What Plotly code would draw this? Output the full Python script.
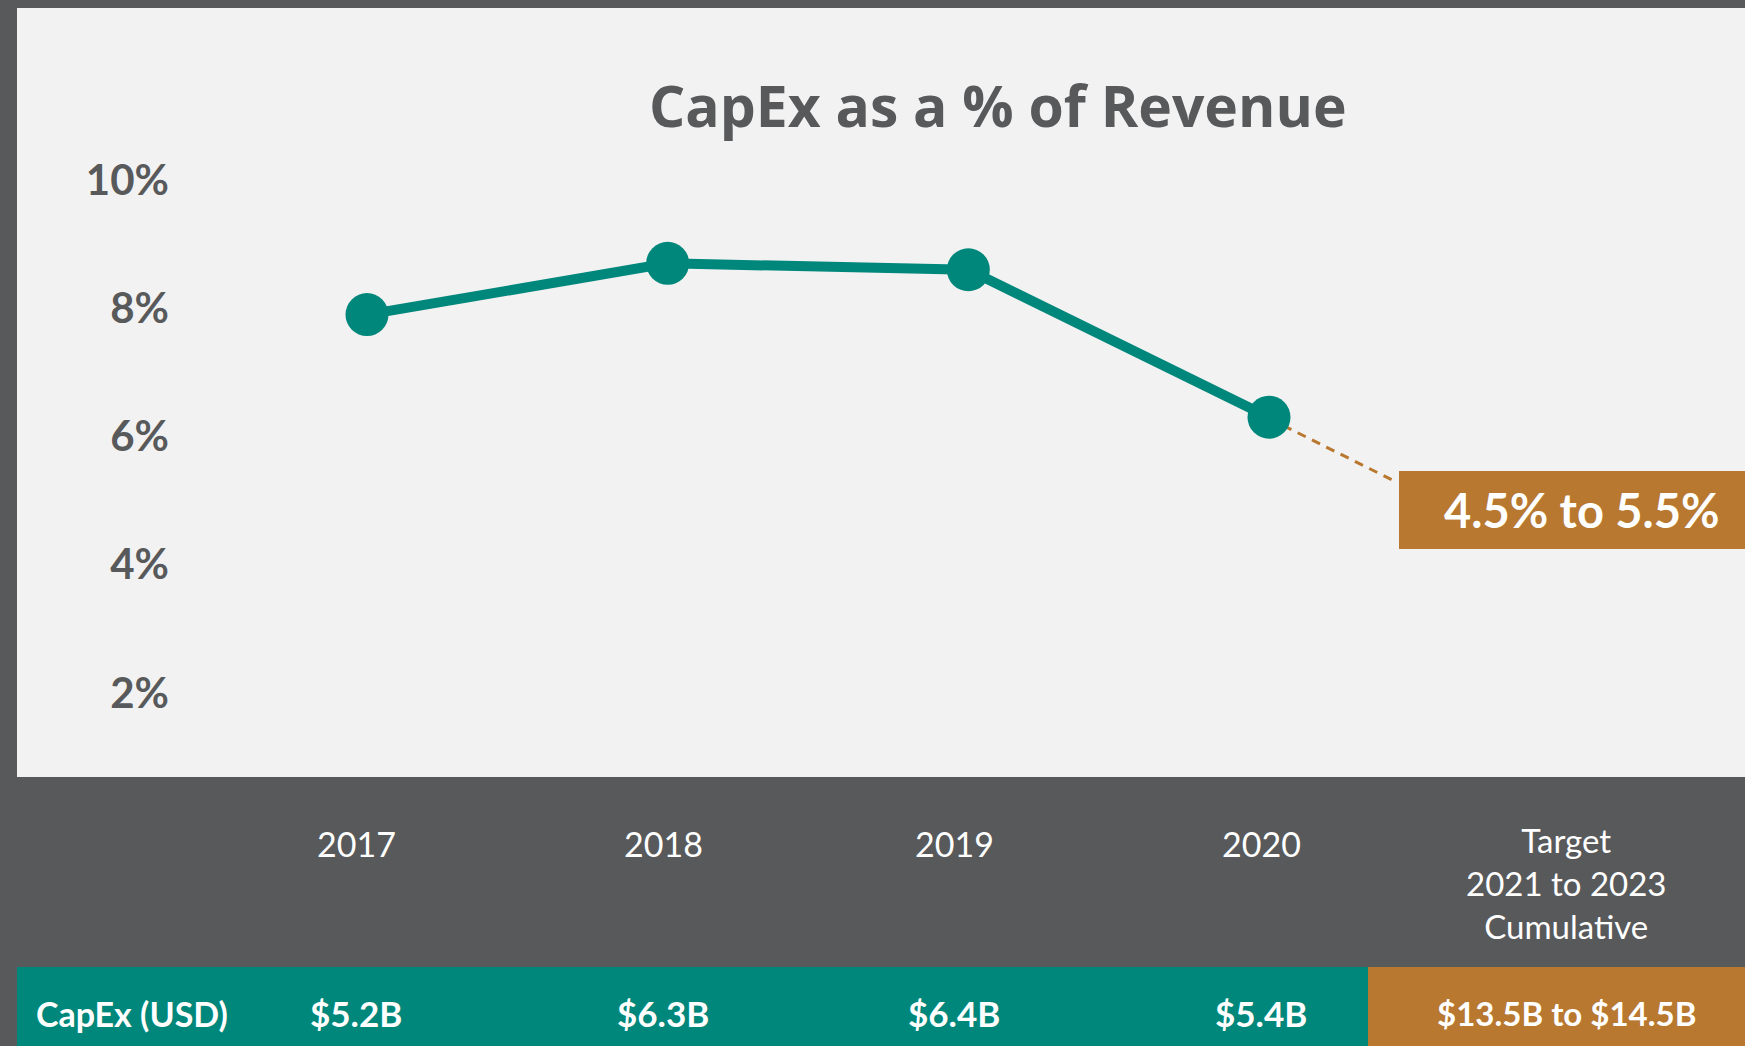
import plotly.graph_objects as go

# ---- data ----
years = [2017, 2018, 2019, 2020]
capex_pct = [7.9, 8.7, 8.6, 6.3]
capex_usd = ["$5.2B", "$6.3B", "$6.4B", "$5.4B"]
year_labels = ["2017", "2018", "2019", "2020"]
target_label = "Target<br>2021 to 2023<br>Cumulative"
target_usd = "$13.5B to $14.5B"
target_pct = "4.5% to 5.5%"
target_trend = [6.28, 5.32]          # dashed trend from last point toward target box
target_trend_x = [2020, 2020.41]
y_ticks = [2, 4, 6, 8, 10]
y_tick_text = ["2%", "4%", "6%", "8%", "10%"]
row_label = "CapEx (USD)"
title = "CapEx as a % of Revenue"

# ---- colours ----
DARK = "#58595b"
LIGHT = "#f2f2f2"
TEAL = "#00877b"
BRONZE = "#b8782f"

W, H = 1745, 1046
def px_x(p): return p / W
def px_y(p): return 1 - p / H

# table column centres (px)
col_centres = [356, 663, 954, 1261]
target_centre = 1566

fig = go.Figure()

fig.add_trace(go.Scatter(
    x=years, y=capex_pct, mode="lines+markers",
    line=dict(color=TEAL, width=10),
    marker=dict(color=TEAL, size=43),
    hoverinfo="skip", showlegend=False,
))

shapes = [
    dict(type="rect", xref="paper", yref="paper", x0=px_x(17), x1=1, y0=px_y(777), y1=px_y(8),
         fillcolor=LIGHT, line=dict(width=0), layer="below"),
    dict(type="rect", xref="paper", yref="paper", x0=px_x(17), x1=px_x(1368), y0=0, y1=px_y(967),
         fillcolor=TEAL, line=dict(width=0), layer="below"),
    dict(type="rect", xref="paper", yref="paper", x0=px_x(1368), x1=1, y0=0, y1=px_y(967),
         fillcolor=BRONZE, line=dict(width=0), layer="below"),
    dict(type="rect", xref="paper", yref="paper", x0=px_x(1399), x1=1, y0=px_y(549), y1=px_y(471),
         fillcolor=BRONZE, line=dict(width=0), layer="below"),
    dict(type="line", xref="x", yref="y", x0=target_trend_x[0], y0=target_trend[0],
         x1=target_trend_x[1], y1=target_trend[1],
         line=dict(color=BRONZE, width=3, dash="9px,7px"), layer="below"),
]

def ann(text, x, y, font, xanchor="center"):
    return dict(text=text, xref="paper", yref="paper", x=x, y=y, xanchor=xanchor,
                yanchor="middle", showarrow=False, font=font)

annotations = [
    ann(title, px_x(998), px_y(105), dict(family="Open Sans", size=57, color=DARK, weight=700)),
    ann(target_pct, px_x(1582), px_y(510), dict(family="Lato", size=47, color="white", weight="bold")),
    ann(row_label, px_x(34), px_y(1013), dict(family="Lato", size=34, color="white", weight="bold"),
        xanchor="left"),
    ann(target_label, px_x(target_centre), px_y(883), dict(family="Lato", size=33, color="white")),
    ann(target_usd, px_x(target_centre), px_y(1013), dict(family="Lato", size=33, color="white", weight="bold")),
]
for cx, lab, usd in zip(col_centres, year_labels, capex_usd):
    annotations.append(ann(lab, px_x(cx), px_y(843), dict(family="Lato", size=34, color="white")))
    annotations.append(ann(usd, px_x(cx), px_y(1013), dict(family="Lato", size=35, color="white", weight="bold")))

# axis geometry
x_dom0 = 170
ppy = 300.67
r0 = 2017 - (367 - x_dom0) / ppy
r1 = r0 + (W - x_dom0) / ppy
y_per = 64.1
y0v = (821 - H) / y_per
y1v = 821 / y_per

fig.update_layout(
    width=W, height=H,
    margin=dict(l=0, r=0, t=0, b=0),
    paper_bgcolor=DARK, plot_bgcolor="rgba(0,0,0,0)",
    shapes=shapes, annotations=annotations,
    xaxis=dict(domain=[x_dom0 / W, 1], range=[r0, r1], visible=True,
               showticklabels=False, showgrid=False, zeroline=False, showline=False, ticks=""),
    yaxis=dict(domain=[0, 1], range=[y0v, y1v], tickvals=y_ticks, ticktext=y_tick_text,
               showgrid=False, zeroline=False, showline=False, ticks="",
               tickfont=dict(family="Lato", size=42, color=DARK, weight="bold")),
    showlegend=False,
)

fig.write_html("out.html", config={"displayModeBar": False},
               post_script="document.body.style.margin='0';document.body.style.overflow='hidden';")
